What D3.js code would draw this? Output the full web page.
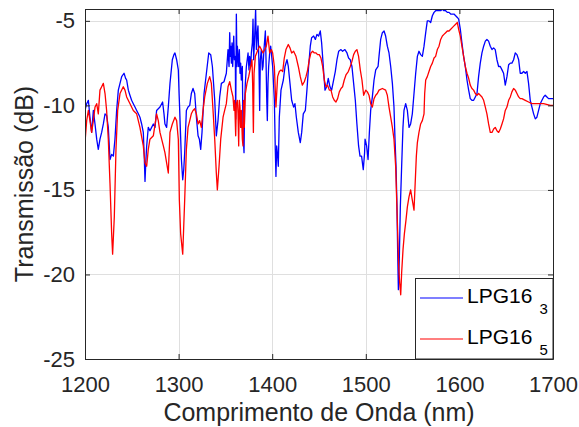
<!DOCTYPE html>
<html>
<head>
<meta charset="utf-8">
<script src="https://cdn.jsdelivr.net/npm/d3@7"></script>
<style>
    body { margin: 0; background: #fff; }
    text { font-family: "Liberation Sans", Arial, sans-serif; fill: #262626; }
</style>
</head>
<body>
<svg id="chart" width="579" height="427"></svg>
<script>
// wavelength (nm), transmission (dB)
var lpg163 = [
    [1200, -10.3], [1201.8, -9.9], [1203.6, -9.7], [1205.3, -10.7], [1207.1, -11.6], [1208.9, -10.3], [1210.7, -11.1], [1212.5, -12.0], [1214.2, -12.6], [1216, -12.0],
    [1217.8, -11.6], [1219.6, -11.1], [1221.4, -10.5], [1223.1, -10.6], [1224.9, -11.3], [1226.7, -13.2], [1228.5, -12.9], [1230.3, -13.0], [1232, -12.0], [1233.8, -10.3],
    [1235.6, -9.1], [1237.4, -8.7], [1239.2, -8.3], [1241.7, -8.1], [1243.4, -8.4], [1244.5, -8.5], [1246.3, -9.1], [1248, -9.4], [1249.8, -9.7], [1251.6, -9.9],
    [1253.4, -10.1], [1255.2, -10.3], [1257, -10.5], [1258.7, -10.7], [1260.5, -11.1], [1262.3, -11.6], [1263.4, -13.2], [1264.1, -14.5], [1265.1, -13.2], [1265.9, -12.4],
    [1267.6, -11.3], [1269.4, -11.5], [1271.2, -11.3], [1273, -11.1], [1274.8, -11.3], [1276.5, -10.3], [1278.3, -10.2], [1280.1, -10.1], [1282.9, -9.8], [1284.4, -10.5],
    [1285.4, -11.1], [1287.2, -11.3], [1289, -10.1], [1290.8, -8.7], [1293.3, -7.3], [1295, -7.0], [1296.1, -6.9], [1297.9, -7.3], [1299.7, -7.9], [1300.5, -9.3],
    [1301.2, -10.3], [1303, -13.2], [1304.4, -14.4], [1305.5, -13.8], [1306.5, -12.8], [1308.3, -10.3], [1310.1, -10.1], [1311.9, -10.0], [1313.6, -9.3], [1315.4, -9.0],
    [1317.2, -9.3], [1319, -10.7], [1320.8, -11.8], [1322.2, -12.0], [1323.6, -12.6], [1325, -11.6], [1327.2, -9.3], [1329.7, -8.1], [1332.2, -6.9], [1334.3, -7.0],
    [1336.1, -7.7], [1338.6, -9.7], [1340.3, -11.8], [1342.1, -10.9], [1343.9, -9.5], [1345.7, -8.7], [1348.5, -8.6], [1351, -8.1], [1352.8, -6.7], [1353.9, -7.7],
    [1354.6, -5.7], [1355.3, -7.1], [1355.6, -6.5], [1356.4, -7.5], [1357.1, -6.3], [1357.8, -7.7], [1358.9, -5.9], [1359.6, -7.3], [1360.6, -7.1], [1361, -10.8],
    [1361.7, -4.6], [1362.4, -7.7], [1362.8, -6.5], [1364.2, -7.7], [1364.9, -6.7], [1365.6, -8.1], [1366.3, -7.5], [1367, -8.5], [1368.1, -7.7], [1368.8, -11.6],
    [1369.9, -12.8], [1370.6, -9.7], [1371.3, -8.7], [1372.4, -7.7], [1374.2, -6.9], [1375.2, -7.9], [1375.9, -7.1], [1377, -7.7], [1377.7, -6.9], [1378.8, -6.3],
    [1379.5, -4.9], [1380.2, -7.3], [1381.3, -5.9], [1382.3, -4.3], [1383.1, -6.7], [1384.1, -5.7], [1384.8, -5.3], [1385.9, -7.7], [1386.6, -10.3], [1387.3, -7.3],
    [1388.4, -6.7], [1389.5, -7.9], [1390.2, -7.7], [1391.2, -6.7], [1392.7, -5.6], [1393.4, -7.3], [1394.1, -9.5], [1394.8, -10.9], [1395.5, -8.7], [1396.2, -7.7],
    [1397.3, -6.9], [1398.4, -6.5], [1400.5, -7.7], [1402.3, -9.7], [1403.3, -12.6], [1404, -14.2], [1404.8, -12.4], [1405.8, -13.0], [1406.5, -13.6], [1407.6, -10.7],
    [1409.4, -9.1], [1411.9, -8.5], [1413.7, -7.7], [1415.8, -7.3], [1417.2, -7.7], [1419, -8.7], [1420.8, -9.7], [1422.9, -10.1], [1424.3, -9.9], [1425.8, -10.7],
    [1427.9, -11.6], [1430, -12.2], [1431.5, -11.6], [1433.2, -10.5], [1435.4, -10.3], [1437.1, -9.1], [1438.9, -7.7], [1440.7, -6.5], [1442.1, -6.0], [1444.3, -5.9],
    [1446.1, -6.1], [1447.8, -5.8], [1449.6, -5.9], [1451.4, -5.6], [1452.8, -6.3], [1454.6, -7.7], [1456.4, -9.1], [1458.2, -8.9], [1459.9, -8.4], [1461.7, -8.9],
    [1463.5, -9.1], [1465.6, -8.5], [1467.4, -8.0], [1469.2, -7.3], [1471, -6.8], [1473.5, -6.7], [1475.2, -6.8], [1477.7, -6.7], [1479.9, -6.9], [1481.6, -7.2],
    [1483.4, -7.3], [1485.2, -7.7], [1487, -8.7], [1488.8, -9.7], [1490.5, -11.1], [1492.3, -12.4], [1493.8, -13.0], [1495.5, -13.0], [1497.3, -13.8], [1498.7, -12.8],
    [1499.2, -12.0], [1500.9, -12.4], [1502.4, -13.2], [1503.8, -11.6], [1505.2, -10.3], [1507, -9.5], [1508.8, -8.5], [1510.6, -7.9], [1513.1, -7.7], [1514.1, -7.1],
    [1515.9, -6.1], [1517.7, -5.7], [1519.5, -5.6], [1521.2, -5.9], [1523, -6.5], [1524.8, -6.9], [1526.6, -7.7], [1528.4, -8.7], [1530.1, -10.1], [1531.2, -12.0],
    [1532.3, -13.6], [1533.3, -16.0], [1534, -18.5], [1534.8, -20.9], [1535.8, -19.1], [1536.9, -16.0], [1538.3, -13.6], [1539.7, -11.3], [1540.8, -10.3], [1542.6, -9.9],
    [1544.4, -10.3], [1546.2, -11.3], [1547.9, -11.1], [1549.7, -10.5], [1551.5, -9.3], [1553.3, -8.1], [1555.1, -7.1], [1556.8, -6.8], [1558.6, -7.0], [1560.4, -7.1],
    [1562.2, -6.5], [1564, -5.7], [1565.7, -5.0], [1567.5, -5.0], [1569.3, -5.1], [1571.1, -4.7], [1572.9, -4.5], [1574.6, -4.4], [1576.4, -4.4], [1578.2, -4.4],
    [1580, -4.4], [1581.8, -4.3], [1583.5, -4.4], [1585.3, -4.4], [1587.1, -4.5], [1588.9, -4.5], [1590.7, -4.6], [1592.4, -4.6], [1594.2, -4.6], [1596, -4.7],
    [1597.8, -4.8], [1599.2, -4.9], [1601, -5.5], [1602.7, -6.3], [1604.5, -7.1], [1606.3, -7.7], [1608.1, -8.5], [1609.9, -9.1], [1611.6, -9.6], [1613.4, -9.7],
    [1615.2, -9.7], [1617, -9.5], [1618.8, -9.3], [1620.5, -8.3], [1622.3, -7.5], [1624.1, -6.9], [1625.9, -6.5], [1627.7, -6.2], [1629.4, -6.1], [1631.2, -6.2],
    [1633, -6.5], [1634.8, -6.7], [1636.6, -6.6], [1638.3, -6.7], [1640.1, -7.3], [1641.9, -7.7], [1643.7, -7.7], [1645.5, -7.9], [1647.2, -8.1], [1649, -8.8],
    [1650.8, -8.3], [1652.6, -7.6], [1654.4, -7.5], [1656.1, -7.5], [1657.9, -7.3], [1659.7, -6.9], [1661.5, -7.0], [1663.3, -7.3], [1665, -8.1], [1666.8, -8.1],
    [1668.6, -8.0], [1670.4, -8.1], [1672.2, -8.0], [1673.9, -8.7], [1675.7, -9.7], [1677.5, -10.1], [1679.3, -10.5], [1681.1, -10.8], [1682.8, -10.7], [1684.6, -10.3],
    [1686.4, -9.9], [1688.2, -9.7], [1690, -9.5], [1691.7, -9.4], [1693.5, -9.5], [1695.3, -9.6], [1697.1, -9.6], [1700, -9.6]
];

var lpg165 = [
    [1200, -12.2], [1201.8, -10.9], [1203.6, -10.3], [1205.3, -10.9], [1207.1, -11.6], [1208.9, -10.9], [1210.7, -10.1], [1212.5, -9.9], [1214.2, -10.5], [1216, -9.1],
    [1217.8, -8.9], [1219.6, -8.7], [1221.4, -9.3], [1223.1, -10.3], [1224.9, -12.0], [1226.7, -14.6], [1228.5, -17.6], [1229.5, -18.8], [1231.3, -16.6], [1233.1, -12.6],
    [1234.9, -10.3], [1237.4, -9.3], [1240.9, -8.9], [1242.7, -9.1], [1244.5, -9.5], [1248.1, -9.9], [1251.6, -10.3], [1255.2, -10.5], [1258.7, -11.3], [1262.3, -12.4],
    [1264.1, -13.4], [1265.9, -13.6], [1267.6, -12.6], [1269.4, -12.0], [1273, -11.8], [1276.5, -10.5], [1278.3, -10.9], [1280.1, -11.6], [1283.7, -12.4], [1285.4, -12.8],
    [1289, -14.0], [1290.8, -11.6], [1293.3, -11.1], [1296.1, -10.7], [1297.9, -10.9], [1299.7, -12.0], [1300.8, -15.6], [1302.2, -17.6], [1304.4, -18.8], [1306.5, -15.6],
    [1308.3, -12.6], [1310.1, -11.3], [1311.9, -10.9], [1313.6, -10.5], [1315.4, -10.3], [1317.2, -10.2], [1319, -10.5], [1320.8, -11.1], [1322.5, -10.9], [1324.3, -11.3],
    [1326.1, -10.3], [1327.9, -9.5], [1330.7, -8.7], [1333.2, -8.3], [1335, -8.7], [1336.8, -10.3], [1338.6, -12.0], [1340.3, -14.0], [1341.4, -15.0], [1343.2, -13.6],
    [1345, -12.0], [1347.5, -10.7], [1349.2, -10.3], [1351, -9.9], [1352.8, -8.9], [1354.6, -8.6], [1356.4, -9.1], [1358.1, -9.5], [1359.2, -10.3], [1359.9, -9.7],
    [1361, -11.8], [1361.7, -9.9], [1362.8, -9.7], [1363.5, -10.5], [1364.2, -12.4], [1364.9, -9.7], [1365.6, -10.1], [1366.3, -11.3], [1367, -10.3], [1368.1, -12.0],
    [1368.8, -12.4], [1369.5, -9.7], [1370.2, -11.3], [1371.3, -9.3], [1373.1, -8.7], [1374.9, -8.3], [1377, -7.7], [1378.4, -7.3], [1379.1, -8.7], [1379.9, -11.6],
    [1380.6, -8.1], [1382, -7.1], [1383.4, -6.9], [1384.8, -6.7], [1386.6, -6.5], [1388.4, -6.7], [1390.2, -6.9], [1392, -6.7], [1393.7, -6.5], [1395.5, -5.9],
    [1397.3, -6.9], [1399.1, -6.7], [1400.5, -6.9], [1402.3, -7.7], [1404, -10.1], [1405.8, -8.3], [1407.6, -8.0], [1409.4, -7.9], [1411.2, -8.0], [1412.9, -7.2],
    [1414.7, -6.7], [1417.2, -6.4], [1419, -6.6], [1420.8, -6.9], [1422.9, -6.8], [1425.4, -7.1], [1427.9, -7.7], [1430, -8.3], [1432.2, -8.8], [1434.3, -8.6],
    [1436.1, -8.3], [1437.9, -7.9], [1439.6, -7.3], [1441.4, -6.9], [1443.2, -6.8], [1445, -6.9], [1446.8, -6.9], [1448.5, -7.0], [1450.3, -7.0], [1452.1, -7.2],
    [1453.9, -7.7], [1455.7, -8.5], [1457.4, -8.9], [1459.2, -8.8], [1461, -9.1], [1462.8, -9.1], [1464.6, -9.5], [1466.3, -9.7], [1468.1, -9.8], [1469.9, -9.6],
    [1471.7, -9.2], [1473.5, -9.0], [1475.2, -8.9], [1477, -8.5], [1478.8, -8.2], [1481.3, -8.0], [1483.4, -7.7], [1485.2, -7.4], [1487, -7.0], [1488.8, -6.8],
    [1490.5, -6.7], [1492.3, -7.1], [1494.1, -7.9], [1495.9, -8.5], [1497.7, -9.4], [1499.9, -9.1], [1501.7, -9.2], [1503.4, -9.4], [1505.2, -9.9], [1507, -10.1],
    [1508.8, -9.6], [1510.6, -9.4], [1512.3, -9.3], [1514.1, -9.1], [1517.7, -9.0], [1521.2, -9.1], [1523, -9.4], [1524.8, -10.1], [1526.6, -10.7], [1528.4, -11.3],
    [1530.1, -12.0], [1531.9, -13.6], [1533, -15.6], [1534.1, -17.6], [1535.1, -19.5], [1536.2, -20.5], [1537.3, -21.2], [1538.3, -19.9], [1539.8, -18.5], [1541.2, -17.6],
    [1542.9, -16.8], [1544.4, -16.0], [1546.2, -15.4], [1547.9, -15.0], [1549.7, -15.6], [1551.5, -16.2], [1552.6, -14.8], [1554, -13.0], [1555.1, -12.2], [1556.8, -11.6],
    [1558.6, -11.1], [1560.4, -10.9], [1562.2, -10.5], [1562.9, -9.3], [1564, -8.5], [1565.7, -8.3], [1567.5, -8.0], [1569.3, -7.7], [1571.1, -7.5], [1572.9, -7.2],
    [1574.6, -7.1], [1576.4, -6.7], [1578.2, -6.5], [1580, -6.1], [1581.8, -5.9], [1583.5, -5.8], [1585.3, -5.7], [1587.1, -5.6], [1588.9, -5.6], [1590.7, -5.5],
    [1592.4, -5.4], [1594.2, -5.3], [1596, -5.2], [1597.8, -5.1], [1599.2, -5.5], [1601, -5.9], [1602.7, -6.5], [1604.5, -7.1], [1606.3, -7.7], [1608.1, -8.1],
    [1609.9, -8.4], [1611.6, -8.8], [1613.4, -9.0], [1615.2, -9.1], [1617, -9.3], [1618.8, -9.4], [1620.5, -9.3], [1622.3, -9.4], [1624.1, -9.5], [1625.9, -9.7],
    [1627.7, -10.1], [1629.4, -10.5], [1631.2, -11.1], [1633, -11.6], [1634.8, -11.6], [1636.6, -11.4], [1638.3, -11.3], [1640.1, -11.5], [1641.9, -11.6], [1643.7, -11.4],
    [1645.5, -11.1], [1647.2, -10.8], [1649, -10.3], [1650.8, -10.1], [1652.6, -9.7], [1654.4, -9.5], [1656.1, -9.2], [1657.9, -9.0], [1659.7, -9.1], [1661.5, -9.3],
    [1663.3, -9.5], [1665, -9.6], [1666.8, -9.6], [1670.4, -9.7], [1673.9, -9.8], [1677.5, -9.9], [1682.8, -9.9], [1690, -9.9], [1697.1, -10.0], [1700, -10.0]
];

var seriesNames = ['LPG16', 'LPG16'];
var seriesSubs = ['3', '5'];
var seriesColors = ['#0000ff', '#ff0000'];
var xTicks = [1200, 1300, 1400, 1500, 1600, 1700];
var yTicks = [-25, -20, -15, -10, -5];
var xDomain = [1200, 1700];
var yDomain = [-25, -4.3];

(function () {
    var m = { left: 85, right: 553, top: 9, bottom: 359 };
    var axisColor = '#262626';
    var fmt = function (d) { return String(d); };

    var svg = d3.select('#chart');

    var x = d3.scaleLinear().domain(xDomain).range([m.left, m.right]);
    var y = d3.scaleLinear().domain(yDomain).range([m.bottom, m.top]);

    // grid
    var grid = svg.append('g').attr('stroke', '#dfdfdf').attr('stroke-width', 1);
    grid.selectAll('line.gx')
        .data(xTicks.slice(1, -1))
        .enter().append('line')
        .attr('x1', function (d) { return Math.round(x(d)) + 0.5; })
        .attr('x2', function (d) { return Math.round(x(d)) + 0.5; })
        .attr('y1', m.top).attr('y2', m.bottom);
    grid.selectAll('line.gy')
        .data(yTicks.slice(1))
        .enter().append('line')
        .attr('y1', function (d) { return Math.round(y(d)) + 0.5; })
        .attr('y2', function (d) { return Math.round(y(d)) + 0.5; })
        .attr('x1', m.left).attr('x2', m.right);

    svg.append('clipPath').attr('id', 'plotClip')
        .append('rect')
        .attr('x', m.left).attr('y', m.top)
        .attr('width', m.right - m.left).attr('height', m.bottom - m.top);

    var line = d3.line()
        .x(function (d) { return x(d[0]); })
        .y(function (d) { return y(d[1]); });

    var plot = svg.append('g').attr('clip-path', 'url(#plotClip)');
    [lpg163, lpg165].forEach(function (s, i) {
        plot.append('path')
            .datum(s)
            .attr('fill', 'none')
            .attr('stroke', seriesColors[i])
            .attr('stroke-width', 1.3)
            .attr('stroke-linejoin', 'round')
            .attr('d', line);
    });

    // axes, ticks pointing inward on all four sides
    function styleAxis(g) {
        g.selectAll('path').attr('stroke', axisColor);
        g.selectAll('line').attr('stroke', axisColor);
        g.selectAll('text')
            .style('font-family', '"Liberation Sans", Arial, sans-serif')
            .style('font-size', '22px')
            .attr('fill', axisColor);
    }

    svg.append('g')
        .attr('transform', 'translate(0,' + m.bottom + ')')
        .call(d3.axisBottom(x).tickValues(xTicks).tickFormat(fmt).tickSizeInner(-5).tickSizeOuter(0).tickPadding(17))
        .call(styleAxis);

    svg.append('g')
        .attr('transform', 'translate(' + m.left + ',0)')
        .call(d3.axisLeft(y).tickValues(yTicks).tickFormat(fmt).tickSizeInner(-5).tickSizeOuter(0).tickPadding(10))
        .call(styleAxis);

    svg.append('g')
        .attr('transform', 'translate(0,' + m.top + ')')
        .call(d3.axisTop(x).tickValues(xTicks).tickSizeInner(-5).tickSizeOuter(0).tickFormat(''))
        .call(styleAxis);

    svg.append('g')
        .attr('transform', 'translate(' + m.right + ',0)')
        .call(d3.axisRight(y).tickValues(yTicks).tickSizeInner(-5).tickSizeOuter(0).tickFormat(''))
        .call(styleAxis);

    // axis labels
    svg.append('text')
        .attr('x', (m.left + m.right) / 2)
        .attr('y', 421)
        .attr('text-anchor', 'middle')
        .style('font-size', '25px')
        .text('Comprimento de Onda (nm)');

    svg.append('text')
        .attr('transform', 'translate(33,' + ((m.top + m.bottom) / 2) + ') rotate(-90)')
        .attr('text-anchor', 'middle')
        .style('font-size', '25px')
        .text('Transmissão (dB)');

    // legend
    var legend = svg.append('g');
    legend.append('rect')
        .attr('x', 415.5).attr('y', 278.5)
        .attr('width', m.right - 415.5).attr('height', m.bottom - 278.5)
        .attr('fill', '#fff')
        .attr('stroke', axisColor);

    var items = legend.selectAll('g.item')
        .data(seriesNames)
        .enter().append('g')
        .attr('transform', function (d, i) { return 'translate(0,' + (298 + i * 41) + ')'; });

    items.append('line')
        .attr('x1', 420).attr('x2', 463)
        .attr('stroke', function (d, i) { return seriesColors[i]; })
        .attr('stroke-width', 1.2);

    var itemText = items.append('text')
        .attr('x', 467)
        .attr('y', 4.5)
        .style('font-size', '21px')
        .style('fill', '#000');
    itemText.append('tspan').text(function (d) { return d; });
    itemText.append('tspan')
        .attr('dx', 7)
        .attr('dy', 11)
        .style('font-size', '15px')
        .text(function (d, i) { return seriesSubs[i]; });
})();
</script>
</body>
</html>
